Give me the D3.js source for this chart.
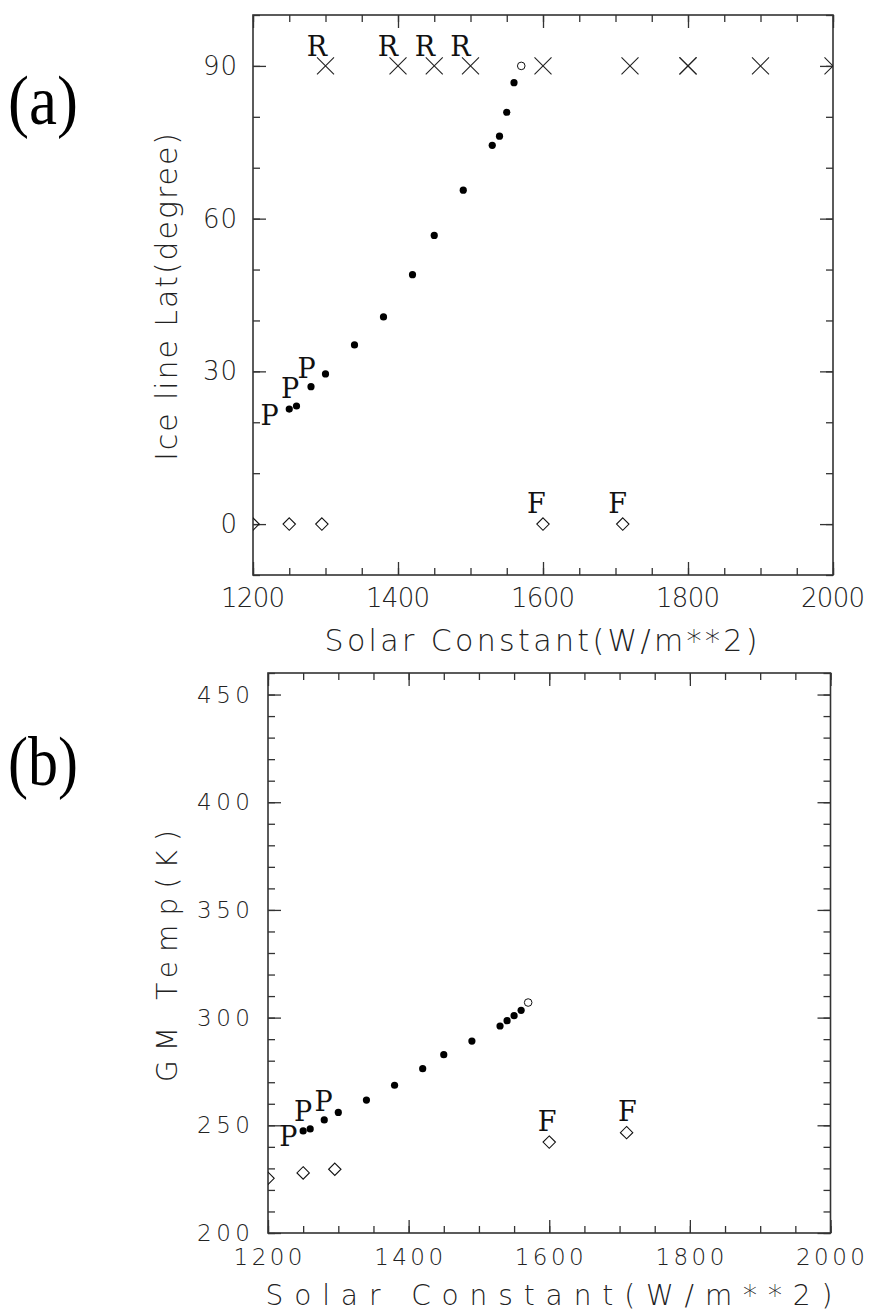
<!DOCTYPE html>
<html>
<head>
<meta charset="utf-8">
<script src="https://cdn.jsdelivr.net/npm/d3@7"></script>
<style>
  body { margin: 0; background: #fff; }
  .axTitle { font-family: "DejaVu Sans", sans-serif; font-weight: 200; fill: #222; }
  .tickLab { font-family: "DejaVu Sans", sans-serif; font-weight: 200; fill: #222; }
  .mark { font-family: "DejaVu Serif", serif; fill: #111; }
  .panel { font-family: "Liberation Serif", serif; fill: #000; }
</style>
</head>
<body>
<div id="chart"></div>
<script>
// shared x values (solar constant, W/m**2)
var solar = [1250, 1260, 1280, 1300, 1340, 1380, 1420, 1450, 1490, 1530, 1540, 1550, 1560];
var iceLat = [22.6, 23.2, 27.0, 29.5, 35.2, 40.7, 49.0, 56.7, 65.6, 74.4, 76.2, 80.9, 86.7];
var gmTemp = [247.4, 248.3, 252.5, 256.0, 261.7, 268.6, 276.3, 282.8, 289.1, 296.1, 298.6, 300.9, 303.4];

// open circle (last point)
var openSolar = [1570];
var openLat = [90];
var openTemp = [307.0];

// crosses (fully ice free, lat = 90)
var crossSolar = [1300, 1400, 1450, 1500, 1600, 1720, 1800, 1800, 1900, 2000];
var crossLat = [90, 90, 90, 90, 90, 90, 90, 90, 90, 90];

// diamonds (ice covered, lat = 0)
var diamondSolar = [1200, 1250, 1295, 1600, 1710];
var diamondLat = [0, 0, 0, 0, 0];
var diamondTemp = [225.4, 227.9, 229.6, 242.2, 246.6];

// letter annotations
var aLabels = [
  {t: "R", x: 1288, y: 94}, {t: "R", x: 1386, y: 94}, {t: "R", x: 1437, y: 94}, {t: "R", x: 1486, y: 94},
  {t: "P", x: 1223, y: 21.4}, {t: "P", x: 1251, y: 26.7}, {t: "P", x: 1274, y: 30.6},
  {t: "F", x: 1591, y: 4.1}, {t: "F", x: 1703, y: 4.1}
];
var bLabels = [
  {t: "P", x: 1229, y: 245.0}, {t: "P", x: 1250, y: 256.6}, {t: "P", x: 1279, y: 261.3},
  {t: "F", x: 1597, y: 252.0}, {t: "F", x: 1711, y: 256.6}
];

var xMajor = [1200, 1400, 1600, 1800, 2000];
var latTicks = [0, 30, 60, 90];
var tempTicks = [200, 250, 300, 350, 400, 450];

var svg = d3.select("#chart").append("svg")
    .attr("width", 870)
    .attr("height", 1313);

function drawPanel(cfg) {
    var g = svg.append("g")
        .attr("transform", `translate(${cfg.left}, ${cfg.top})`);
    var w = cfg.width, h = cfg.height;

    var x = d3.scaleLinear().domain([1200, 2000]).range([0, w]);
    var y = d3.scaleLinear().domain(cfg.yDomain).range([h, 0]);

    var xMinor = d3.range(1200, 2001, 50);
    var yMinor = d3.range(cfg.yDomain[0], cfg.yDomain[1] + 0.01, cfg.yMinorStep);

    // inward ticks on all four sides
    function ticks(axis, vals, size, tf) {
        var a = g.append("g")
            .attr("transform", tf)
            .call(axis.tickValues(vals).tickSize(size).tickFormat(""));
        a.select(".domain").remove();
        a.selectAll("line").attr("stroke", "#333").attr("stroke-width", 1.3);
    }
    ticks(d3.axisBottom(x), xMinor, -7, `translate(0,${h})`);
    ticks(d3.axisBottom(x), xMajor, -13, `translate(0,${h})`);
    ticks(d3.axisTop(x), xMinor, -7, "translate(0,0)");
    ticks(d3.axisTop(x), xMajor, -13, "translate(0,0)");
    ticks(d3.axisLeft(y), yMinor, -7, "translate(0,0)");
    ticks(d3.axisLeft(y), cfg.yTicks, -13, "translate(0,0)");
    ticks(d3.axisRight(y), yMinor, -7, `translate(${w},0)`);
    ticks(d3.axisRight(y), cfg.yTicks, -13, `translate(${w},0)`);

    // frame
    g.append("rect")
        .attr("width", w)
        .attr("height", h)
        .attr("fill", "none")
        .attr("stroke", "#333")
        .attr("stroke-width", 1.6);

    // tick labels
    g.selectAll(".xlab")
        .data(xMajor)
        .enter()
        .append("text")
        .attr("class", "tickLab")
        .attr("x", d => x(d))
        .attr("y", h + cfg.xLabDy)
        .attr("text-anchor", "middle")
        .attr("font-size", cfg.tickFont)
        .attr("textLength", cfg.xLabLen)
        .text(d => d);

    g.selectAll(".ylab")
        .data(cfg.yTicks)
        .enter()
        .append("text")
        .attr("class", "tickLab")
        .attr("x", cfg.yLabX)
        .attr("y", d => y(d) + cfg.yLabDy)
        .attr("text-anchor", "end")
        .attr("font-size", cfg.tickFont)
        .attr("textLength", d => cfg.yLabLen * String(d).length)
        .text(d => d);

    // axis titles
    g.append("text")
        .attr("class", "axTitle")
        .attr("x", cfg.xTitleX)
        .attr("y", h + cfg.xTitleDy)
        .attr("text-anchor", "middle")
        .attr("font-size", cfg.titleFont)
        .attr("textLength", cfg.xTitleLen)
        .text("Solar Constant(W/m**2)");

    g.append("text")
        .attr("class", "axTitle")
        .attr("transform", `translate(${cfg.yTitleX}, ${cfg.yTitleY}) rotate(-90)`)
        .attr("text-anchor", "middle")
        .attr("font-size", cfg.titleFont)
        .attr("textLength", cfg.yTitleLen)
        .text(cfg.yTitle);

    // clip for markers
    g.append("clipPath")
        .attr("id", cfg.id + "clip")
        .append("rect")
        .attr("width", w)
        .attr("height", h);
    var marks = g.append("g").attr("clip-path", `url(#${cfg.id}clip)`);

    // diamonds
    marks.selectAll(".dia")
        .data(cfg.diamonds)
        .enter()
        .append("path")
        .attr("d", d3.symbol().type(d3.symbolDiamond2).size(98))
        .attr("transform", d => `translate(${x(d[0])},${y(d[1])})`)
        .attr("fill", "none")
        .attr("stroke", "#111")
        .attr("stroke-width", 1.1);

    // crosses
    if (cfg.crosses) {
        marks.selectAll(".cross")
            .data(cfg.crosses)
            .enter()
            .append("path")
            .attr("d", "M-8.5,-8.5L8.5,8.5M-8.5,8.5L8.5,-8.5")
            .attr("transform", d => `translate(${x(d[0])},${y(d[1])})`)
            .attr("fill", "none")
            .attr("stroke", "#222")
            .attr("stroke-width", 1.1);
    }

    // filled dots
    marks.selectAll(".dot")
        .data(cfg.dots)
        .enter()
        .append("circle")
        .attr("cx", d => x(d[0]))
        .attr("cy", d => y(d[1]))
        .attr("r", 3.6)
        .attr("fill", "#000");

    // open circle
    marks.selectAll(".open")
        .data(cfg.open)
        .enter()
        .append("circle")
        .attr("cx", d => x(d[0]))
        .attr("cy", d => y(d[1]))
        .attr("r", 3.8)
        .attr("fill", "#fff")
        .attr("stroke", "#111")
        .attr("stroke-width", 1);

    // letter labels
    g.selectAll(".mk")
        .data(cfg.labels)
        .enter()
        .append("text")
        .attr("class", "mark")
        .attr("x", d => x(d.x))
        .attr("y", d => y(d.y) + 10)
        .attr("text-anchor", "middle")
        .attr("font-size", 27)
        .text(d => d.t);

    // panel letter
    svg.append("text")
        .attr("class", "panel")
        .attr("x", 43)
        .attr("y", cfg.panelY)
        .attr("text-anchor", "middle")
        .attr("font-size", 70)
        .attr("textLength", 70)
        .attr("lengthAdjust", "spacingAndGlyphs")
        .text(cfg.panel);
}

drawPanel({
    id: "a",
    left: 253, top: 15, width: 580, height: 560,
    yDomain: [-10, 100], yMinorStep: 10, yTicks: latTicks,
    tickFont: 26, xLabDy: 32, xLabLen: 64, yLabX: -16, yLabDy: 9, yLabLen: 17,
    titleFont: 30, xTitleX: 288, xTitleDy: 76, xTitleLen: 433,
    yTitle: "Ice line Lat(degree)", yTitleX: -76, yTitleY: 282, yTitleLen: 328,
    dots: solar.map((s, i) => [s, iceLat[i]]),
    open: openSolar.map((s, i) => [s, openLat[i]]),
    crosses: crossSolar.map((s, i) => [s, crossLat[i]]),
    diamonds: diamondSolar.map((s, i) => [s, diamondLat[i]]),
    labels: aLabels,
    panel: "(a)", panelY: 124
});

drawPanel({
    id: "b",
    left: 268, top: 673, width: 562.5, height: 560,
    yDomain: [200, 460], yMinorStep: 10, yTicks: tempTicks,
    tickFont: 23, xLabDy: 32, xLabLen: 69, yLabX: -18, yLabDy: 8, yLabLen: 17.7,
    titleFont: 28, xTitleX: 281, xTitleDy: 72, xTitleLen: 567,
    yTitle: "GM Temp(K)", yTitleX: -91, yTitleY: 283, yTitleLen: 252,
    dots: solar.map((s, i) => [s, gmTemp[i]]),
    open: openSolar.map((s, i) => [s, openTemp[i]]),
    crosses: null,
    diamonds: diamondSolar.map((s, i) => [s, diamondTemp[i]]),
    labels: bLabels,
    panel: "(b)", panelY: 785
});
</script>
</body>
</html>
